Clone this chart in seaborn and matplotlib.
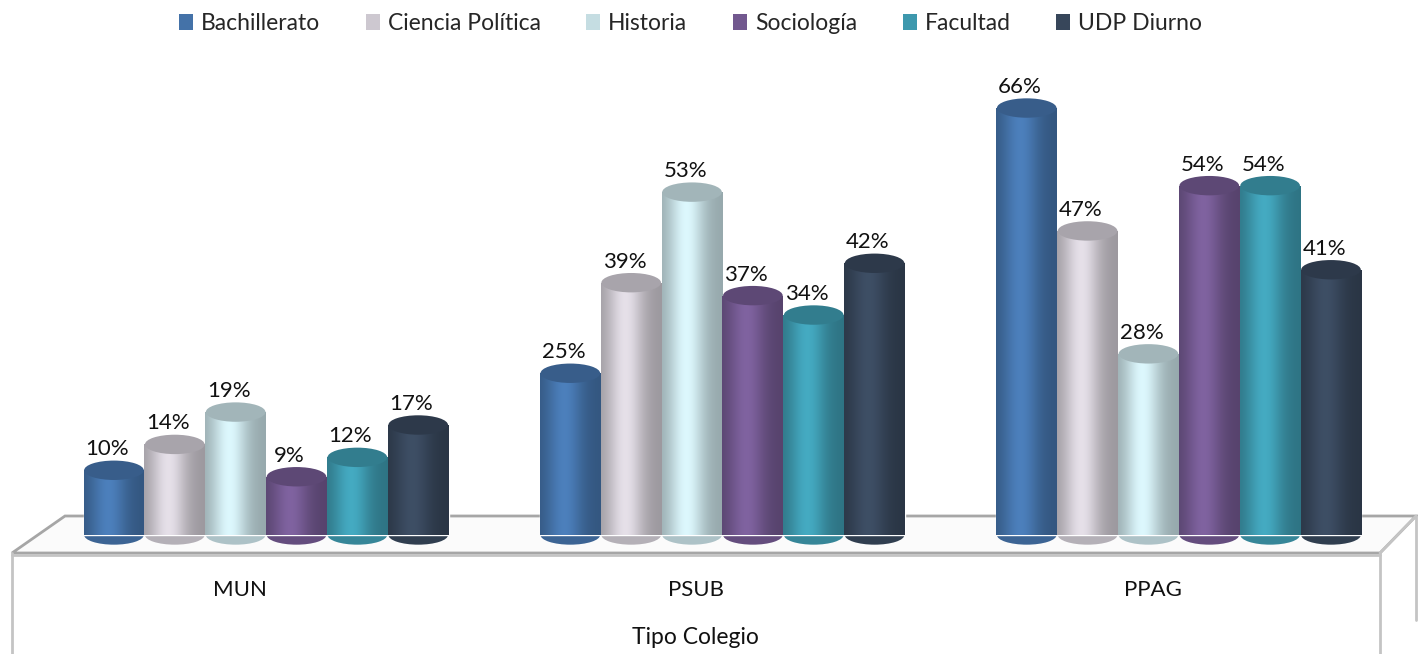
import numpy as np
import pandas as pd
import matplotlib
matplotlib.use("Agg")
import matplotlib.pyplot as plt
import matplotlib.colors as mcolors
from matplotlib.patches import Ellipse, Polygon, Patch
from matplotlib.lines import Line2D
import seaborn as sns

# data
tipos = ["MUN", "PSUB", "PPAG"]
carreras = ["Bachillerato", "Ciencia Política", "Historia", "Sociología", "Facultad", "UDP Diurno"]
bachillerato = [10, 25, 66]
ciencia_politica = [14, 39, 47]
historia = [19, 53, 28]
sociologia = [9, 37, 54]
facultad = [12, 34, 54]
udp_diurno = [17, 42, 41]
colores = ["#4472a8", "#cdc8d0", "#c5dde2", "#72588f", "#3d98ad", "#37465a"]

series = [bachillerato, ciencia_politica, historia, sociologia, facultad, udp_diurno]
rows = []
for carrera, vals in zip(carreras, series):
    for tipo, v in zip(tipos, vals):
        rows.append({"Tipo Colegio": tipo, "Carrera": carrera, "Porcentaje": v})
df = pd.DataFrame(rows)

sns.set_style("white")
plt.rcParams["font.family"] = ["Lato", "DejaVu Sans"]

W, H = 1418, 654
fig = plt.figure(figsize=(W / 100, H / 100), dpi=100)
ax = fig.add_axes([0, 0, 1, 1])

def px(x, y):
    return (x / W, 1 - y / H)

# floor / platform
gray = "#a6a6a6"
top = Polygon([px(65, 516), px(1416, 516), px(1380, 553), px(12, 553)], closed=True,
              facecolor="#fbfbfb", edgecolor=gray, lw=2, transform=fig.transFigure, zorder=0)
fig.add_artist(top)
for seg in [[(12, 553), (12, 654)], [(1380, 553), (1380, 654)], [(1380, 553), (1416, 516)],
            [(1416, 516), (1416, 620)], [(12, 555), (1380, 555)]]:
    (x0, y0), (x1, y1) = px(*seg[0]), px(*seg[1])
    fig.add_artist(Line2D([x0, x1], [y0, y1], color="#c4c4c4", lw=2, transform=fig.transFigure, zorder=0))

sns.barplot(data=df, x="Tipo Colegio", y="Porcentaje", hue="Carrera", hue_order=carreras,
            order=tipos, palette=colores, width=0.8, legend=False, ax=ax,
            saturation=1, zorder=3)

ax.set_xlim(-0.583, 2.524)
ax.set_ylim(-18.4, 82.7)
ax.axis("off")

cap_h = 3.0
xs = np.linspace(0, 1, 64)
shade = 0.76 + 0.36 * np.exp(-((xs - 0.4) / 0.3) ** 2)
for cont, col in zip(ax.containers, colores):
    base = np.array(mcolors.to_rgb(col))
    for bar in cont:
        x0, w, h = bar.get_x(), bar.get_width(), bar.get_height()
        cx = x0 + w / 2
        # bottom rounding
        ax.add_patch(Ellipse((cx, 0), w * 0.98, cap_h, facecolor=base * 0.88, edgecolor="none", zorder=2))
        # cylinder shading
        img = np.clip(base[None, None, :] * shade[None, :, None], 0, 1)
        im = ax.imshow(img, extent=(x0, x0 + w, 0, h), aspect="auto", zorder=3.5, interpolation="bicubic")
        im.set_clip_path(bar)
        # top cap
        ax.add_patch(Ellipse((cx, h), w * 0.98, cap_h, facecolor=np.clip(base * 0.82, 0, 1),
                             edgecolor="none", zorder=4))
        ax.text(cx - 0.015, h + 1.7, f"{h:.0f}%", ha="center", va="bottom", fontsize=16, color="#111111", zorder=5)

for i, t in enumerate(tipos):
    ax.text(i - 0.057, -8.5, t, ha="center", va="center", fontsize=16, color="#111111")
ax.text(0.94, -15.8, "Tipo Colegio", ha="center", va="center", fontsize=16.5, color="#111111")

handles = [Patch(facecolor=c, edgecolor="none") for c in colores]
fig.legend(handles, carreras, loc="upper center", bbox_to_anchor=(0.487, 1.012), ncol=6, frameon=False,
           fontsize=16.5, handlelength=0.6, handleheight=0.7, handletextpad=0.35, columnspacing=2.0)

fig.savefig("out.png", dpi=100)
